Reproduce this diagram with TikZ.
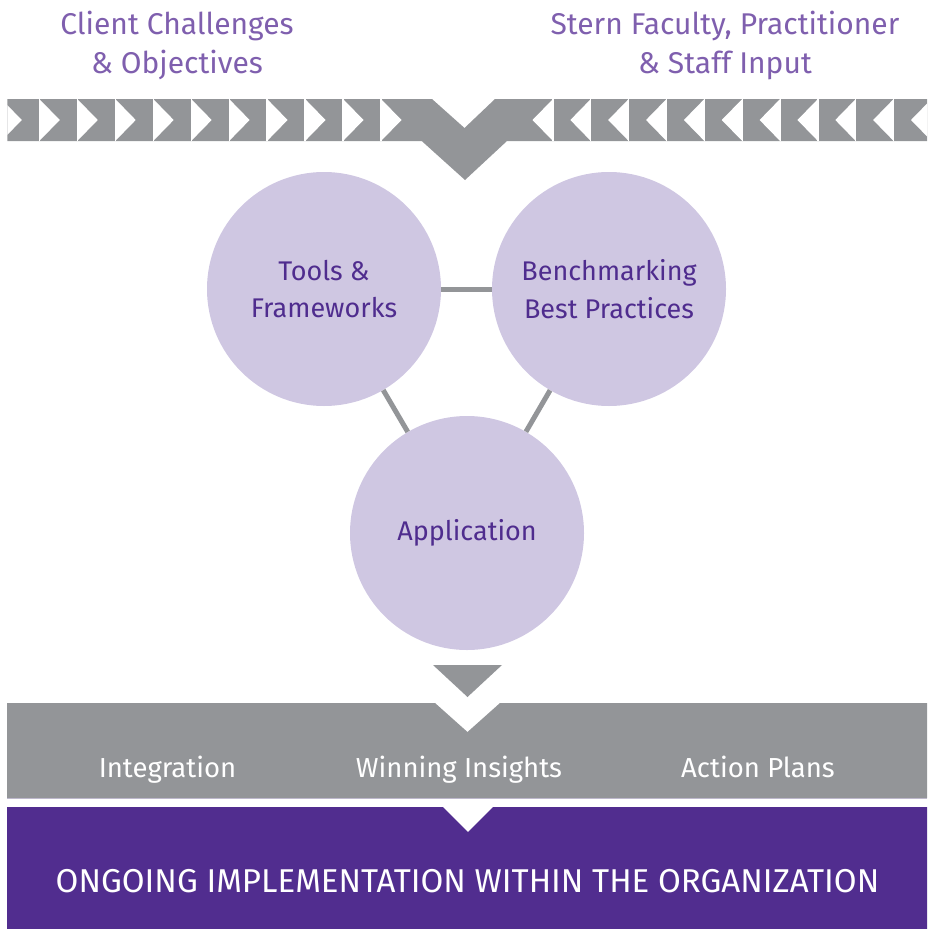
\documentclass[tikz,border=0pt]{standalone}
\usepackage{fontspec}
\setmainfont{Fira Sans}

\definecolor{barGray}{HTML}{939598}
\definecolor{circLav}{HTML}{CFC7E2}
\definecolor{deepPurple}{HTML}{4F2C8E}
\definecolor{topPurple}{HTML}{7F5FAE}
\definecolor{bandPurple}{HTML}{512D8F}

\tikzset{
	topLabel/.style={text=topPurple, font=\fontsize{30}{39}\selectfont, align=center},
	idea/.style={circle, fill=circLav, minimum size=234pt, inner sep=0pt, text=deepPurple, font=\fontsize{27}{37.5}\selectfont, align=center},
	link/.style={draw=barGray, line width=5pt},
	bandText/.style={text=white, font=\fontsize{27.5}{30}\selectfont, anchor=base},
	notch/.style={fill=white},
}

\begin{document}
\begin{tikzpicture}[x=1pt,y=-1pt]
	\useasboundingbox (0,0) rectangle (932,929);

	\node[topLabel] (client) at (177,45.5) {Client Challenges\\\& Objectives};
	\node[topLabel] (stern) at (725,45.5) {Stern Faculty, Practitioner\\\& Staff Input};

	\fill[barGray] (7.3,99) -- (432,99) -- (464.5,128) -- (495,99) -- (927,99) -- (927,141)
		-- (507,141) -- (465,180) -- (421.7,141) -- (7.3,141) -- cycle;
	\begin{scope}
	\clip (7.3,95) rectangle (927,145);
	\foreach \k in {0,...,10}{
		\fill[notch] ({381-37.97*\k},99) -- ({401.5-37.97*\k},120) -- ({381-37.97*\k},141) -- cycle;
		\draw[white, line width=1.2pt] ({381-37.97*\k},99) -- ({381-37.97*\k},141);
		\fill[notch] ({553+37.85*\k},99) -- ({532.5+37.85*\k},120) -- ({553+37.85*\k},141) -- cycle;
		\draw[white, line width=1.2pt] ({553+37.85*\k},99) -- ({553+37.85*\k},141);
	}
	\end{scope}

	\node[idea] (tools) at (324,289) {Tools \&\\Frameworks};
	\node[idea] (bench) at (609,289) {Benchmarking\\Best Practices};
	\node[idea] (app) at (467,533) {Application};
	\draw[link] (tools) -- (bench);
	\draw[link] (tools) -- (app);
	\draw[link] (bench) -- (app);

	\fill[barGray] (433,665) -- (502,665) -- (467.5,697) -- cycle;

	\fill[barGray] (7,703) -- (435,703) -- (467.5,732) -- (500,703) -- (927,703) -- (927,798) -- (7,798) -- cycle;
	\draw[circLav!70!barGray, line width=0.8pt] (7,798.5) -- (927,798.5);
	\node[bandText] (integ) at (167.5,777) {Integration};
	\node[bandText] (insight) at (459,777) {Winning Insights};
	\node[bandText] (plans) at (758,777) {Action Plans};

	\fill[bandPurple] (7,807) -- (443,807) -- (468,832) -- (493,807) -- (927,807) -- (927,929) -- (7,929) -- cycle;
	\node[bandText, font=\fontsize{33}{36}\selectfont] (ongoing) at (467.5,892) {ONGOING IMPLEMENTATION WITHIN THE ORGANIZATION};
\end{tikzpicture}
\end{document}
